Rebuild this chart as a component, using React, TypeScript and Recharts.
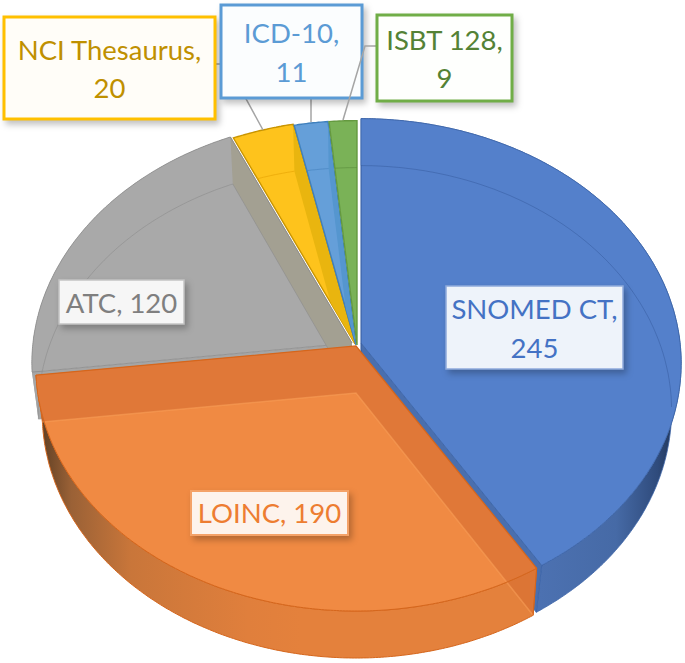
import React from "react";
import { PieChart, Pie } from "recharts";

const categories = ["SNOMED CT", "LOINC", "ATC", "NCI Thesaurus", "ICD-10", "ISBT 128"];
const seriesValues = [245, 190, 120, 20, 11, 9];
const tableRows = categories.map((name, i) => ({ name, value: seriesValues[i] }));

const KEY_ORANGE = 1;
const KEY_GRAY = 2;
const RX_RATIO = 1.313;
const TILT = 0.083;
const DEPTH = 47;

const looks = [
  { ox: 5, oy: -3, scale: 0.97, face: "#5480cb", edge: "#3c64a8", floor: "rgba(45,80,145,0.4)", wall: "url(#blueWall)", radial: "#4a6fae", floorTo: 94 },
  { ox: 0, oy: 0, scale: 0.98, face: "#f08a43", edge: "#d5661c", floor: "rgba(250,160,90,0.55)", wall: "url(#orangeWall)", radial: "rgba(215,110,50,0.62)" },
  { ox: -4, oy: -3, scale: 0.98, face: "#a9a9a9", edge: "#8a8a8a", floor: "rgba(140,140,140,0.6)", wall: "#a5a5a5", radial: "#a3a092" },
  { ox: -1, oy: -2, scale: 0.98, face: "#fec31c", edge: "#c99400", floor: "rgba(235,170,10,0.8)", wall: "#e0a80a", radial: "#e9b50f" },
  { ox: 0, oy: -1, scale: 0.98, face: "#659fd9", edge: "#3f80bd", floor: "rgba(70,130,190,0.6)", wall: "#5b93c9", radial: "#5596cf" },
  { ox: 1, oy: -1, scale: 0.98, face: "#7ab257", edge: "#64993f", floor: "rgba(90,140,60,0.6)", wall: "#70a54e", radial: "#6fa84b" },
];

const boxes = [
  { x: 446, y: 286, w: 177, h: 83, text: "#4472c4", fill: "#eef3fa", border: "#8faadc", bw: 1.5, base: [319, 358], lead: "" },
  { x: 191, y: 491, w: 157, h: 44, text: "#ed7d31", fill: "#fdf3ec", border: "#f4a268", bw: 2, base: [523], lead: "" },
  { x: 59, y: 280, w: 125, h: 44, text: "#7f7f7f", fill: "#f6f6f6", border: "#c4c4c4", bw: 1.5, base: [313], lead: "" },
  { x: 4, y: 17, w: 211, h: 102, text: "#bf9000", fill: "#fffdf8", border: "#ffc000", bw: 3, base: [60, 98], lead: "215,64 227,64 263,130" },
  { x: 221, y: 5, w: 141, h: 93, text: "#5b9bd5", fill: "#fbfdfe", border: "#5b9bd5", bw: 3, base: [43, 82], lead: "311,98 311,122" },
  { x: 377, y: 15, w: 135, h: 86, text: "#548235", fill: "#fefffd", border: "#70ad47", bw: 3, base: [50, 88], lead: "377,46 365,46 343,120" },
];

function geometry(cx: number, cy: number, ry: number, look: any) {
  const rx = ry * RX_RATIO;
  const pt = (deg: number, low: boolean) => {
    const a = (deg * Math.PI) / 180;
    const u = Math.sin(a);
    const v = -Math.cos(a);
    const w = 1 - TILT * v;
    const s = low ? look.scale : 1;
    const x = cx + look.ox + (s * rx * u) / w;
    const y = cy + look.oy + (low ? DEPTH : 0) + (ry * v) / w;
    return `${x.toFixed(1)},${y.toFixed(1)}`;
  };
  const rim = (a: number, b: number, low: boolean) => {
    const out: string[] = [];
    const n = Math.max(2, Math.ceil(Math.abs(b - a) * 2));
    for (let i = 0; i <= n; i++) out.push(pt(a + ((b - a) * i) / n, low));
    return out;
  };
  const apex = (low: boolean) => `${cx + look.ox},${cy + look.oy + (low ? DEPTH : 0)}`;
  return { pt, rim, apex };
}

function SliceBody(props: any) {
  const { cx, cy, outerRadius, startAngle, endAngle, index } = props;
  const look = looks[index];
  const t1 = 90 - startAngle;
  const t2 = 90 - endAngle;
  const g = geometry(cx, cy, outerRadius, look);
  const face = `M${g.apex(false)} L${g.rim(t1, t2, false).join(" L")} Z`;
  const outer = `M${g.rim(t1, t2, false).join(" L")} L${g.rim(t2, t1, true).join(" L")} Z`;
  const radial = (t: number) => `M${g.apex(false)} L${g.pt(t, false)} L${g.pt(t, true)} L${g.apex(true)} Z`;
  const floorEnd = look.floorTo ?? t2;
  const floorLine = `M${g.apex(true)} L${g.rim(t1, floorEnd, true).join(" L")}`;

  if (index === KEY_ORANGE) {
    const floorPath = `M${g.pt(t1, true)} L${g.apex(true)} L${g.pt(t2, true)}`;
    return (
      <g>
        <path d={outer} fill={look.wall} stroke={look.edge} strokeWidth={1} />
        <path d={face} fill={look.face} />
        <path d={radial(t1)} fill={look.radial} />
        <path d={radial(t2)} fill={look.radial} />
        <path d={floorPath} fill="none" stroke={look.floor} strokeWidth={1.5} />
        <path d={`M${g.rim(t1, t2, false).join(" L")}`} fill="none" stroke={look.edge} strokeWidth={1} />
        <path d={`M${g.pt(t1, false)} L${g.apex(false)} L${g.pt(t2, false)}`} fill="none" stroke={look.edge} strokeWidth={1.2} />
        <path d={`M${g.pt(t1, false)} L${g.pt(t1, true)}`} fill="none" stroke={look.edge} strokeWidth={1} />
      </g>
    );
  }
  if (index === 0) {
    return (
      <g>
        <path d={outer} fill={look.wall} stroke={look.edge} strokeWidth={0.8} />
        <path d={radial(t2)} fill={look.radial} stroke={look.edge} strokeWidth={0.8} />
        <path d={face} fill={look.face} stroke={look.edge} strokeWidth={0.8} />
        <path d={floorLine} fill="none" stroke={look.floor} strokeWidth={1} />
      </g>
    );
  }
  if (index === KEY_GRAY) {
    return (
      <g>
        <path d={outer} fill={look.wall} />
        <path d={radial(t1)} fill={look.wall} />
        <path d={face} fill={look.face} stroke={look.edge} strokeWidth={0.8} />
        <path d={radial(t2)} fill={look.radial} />
        <path d={floorLine} fill="none" stroke={look.floor} strokeWidth={1} />
        <path d={`M${g.apex(true)} L${g.pt(t2, true)}`} fill="none" stroke={look.floor} strokeWidth={1} />
        <path d={`M${g.apex(false)} L${g.pt(t2, false)}`} fill="none" stroke={look.edge} strokeWidth={0.8} />
      </g>
    );
  }
  const clipId = `faceClip${index}`;
  return (
    <g>
      <clipPath id={clipId}>
        <path d={face} />
      </clipPath>
      <path d={face} fill={look.face} stroke={look.edge} strokeWidth={1.4} />
      <g clipPath={`url(#${clipId})`}>
        <path d={radial(t2)} fill={look.radial} />
        <path d={`M${g.rim(t1, t2, true).join(" L")}`} fill="none" stroke={look.floor} strokeWidth={1} />
      </g>
    </g>
  );
}

function BackSlice(props: any) {
  return props.index === KEY_ORANGE ? <g /> : <SliceBody {...props} />;
}
function FrontSlice(props: any) {
  return props.index === KEY_ORANGE ? <SliceBody {...props} /> : <g />;
}

function BoxLabel(props: any) {
  const { index, name, value } = props;
  const b = boxes[index];
  const lines = b.base.length === 2 ? [`${name},`, `${value}`] : [`${name}, ${value}`];
  return (
    <g>
      {b.lead ? <polyline points={b.lead} fill="none" stroke="#a5a5a5" strokeWidth={1.5} /> : null}
      <rect
        x={b.x}
        y={b.y}
        width={b.w}
        height={b.h}
        fill={b.fill}
        stroke={b.border}
        strokeWidth={b.bw}
        style={{ filter: "drop-shadow(3px 4px 3px rgba(0,0,0,0.25))" }}
      />
      {lines.map((t, i) => (
        <text
          key={t}
          x={b.x + b.w / 2}
          y={b.base[i]}
          textAnchor="middle"
          fill={b.text}
          fontFamily="Lato, 'Open Sans', sans-serif"
          fontSize={27.5}
        >
          {t}
        </text>
      ))}
    </g>
  );
}

export default function App() {
  return (
    <div style={{ position: "absolute", left: 0, top: 0, width: 685, height: 663 }}>
      <PieChart width={685} height={663} margin={{ top: 0, right: 0, bottom: 0, left: 0 }}>
        <defs>
          <linearGradient id="orangeWall" gradientUnits="userSpaceOnUse" x1="40" y1="0" x2="300" y2="0">
            <stop offset="0" stopColor="#5f3f24" />
            <stop offset="0.12" stopColor="#9a6136" />
            <stop offset="0.35" stopColor="#c9763a" />
            <stop offset="0.8" stopColor="#e07f3c" />
            <stop offset="1" stopColor="#e4813c" />
          </linearGradient>
          <linearGradient id="blueWall" gradientUnits="userSpaceOnUse" x1="540" y1="0" x2="678" y2="0">
            <stop offset="0" stopColor="#4c71b1" />
            <stop offset="0.55" stopColor="#466aa6" />
            <stop offset="0.85" stopColor="#2f4b7c" />
            <stop offset="1" stopColor="#1f3150" />
          </linearGradient>
        </defs>
        <Pie
          data={tableRows}
          dataKey="value"
          nameKey="name"
          cx={356}
          cy={346}
          outerRadius={243}
          startAngle={90}
          endAngle={-270}
          stroke="none"
          shape={BackSlice}
          isAnimationActive={false}
        />
        <Pie
          data={tableRows}
          dataKey="value"
          nameKey="name"
          cx={356}
          cy={346}
          outerRadius={243}
          startAngle={90}
          endAngle={-270}
          stroke="none"
          shape={FrontSlice}
          label={BoxLabel}
          labelLine={false}
          isAnimationActive={false}
        />
      </PieChart>
    </div>
  );
}
